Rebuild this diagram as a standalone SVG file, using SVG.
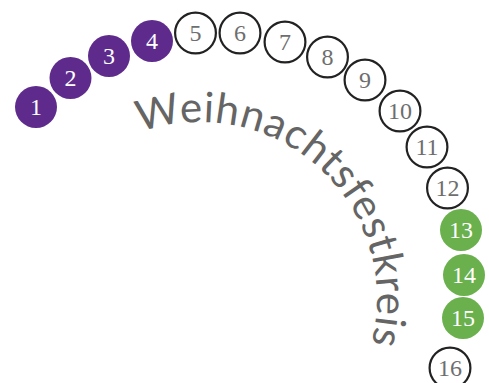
<svg xmlns="http://www.w3.org/2000/svg" width="489" height="383" viewBox="0 0 489 383">
<defs>
<style>
.o circle{fill:#fff;stroke:#222;stroke-width:2.2}
.p circle{fill:#5e2b8d}
.g circle{fill:#6ab04c}
text.n{font-family:"Liberation Serif",serif;font-size:24px;text-anchor:middle}
.o text{fill:#6e6e6e}
.p text,.g text{fill:#fff}
.arc{font-family:Lato,"Open Sans",sans-serif;font-size:42px;fill:#656565}
</style>
<path id="arcpath" d="M125.2,138.6 A177,177 0 0 1 366.3,359.5" fill="none"/>
</defs>
<g id="connectors"/>
<g id="label">
<text class="arc"><textPath href="#arcpath" startOffset="16" textLength="384" lengthAdjust="spacing">Weihnachtsfestkreis</textPath></text>
</g>
<g id="n1" class="p"><circle cx="36" cy="107" r="21"/><text class="n" x="36" y="115">1</text></g>
<g id="n2" class="p"><circle cx="70.5" cy="78" r="21"/><text class="n" x="70.5" y="86">2</text></g>
<g id="n3" class="p"><circle cx="109" cy="56" r="21"/><text class="n" x="109" y="64">3</text></g>
<g id="n4" class="p"><circle cx="152" cy="41" r="21"/><text class="n" x="152" y="49">4</text></g>
<g id="n5" class="o"><circle cx="195.5" cy="33" r="20.4"/><text class="n" x="195.5" y="41">5</text></g>
<g id="n6" class="o"><circle cx="240" cy="33" r="20.4"/><text class="n" x="240" y="41">6</text></g>
<g id="n7" class="o"><circle cx="285" cy="42" r="20.4"/><text class="n" x="285" y="50">7</text></g>
<g id="n8" class="o"><circle cx="327.5" cy="57" r="20.4"/><text class="n" x="327.5" y="65">8</text></g>
<g id="n9" class="o"><circle cx="365" cy="80" r="20.4"/><text class="n" x="365" y="88">9</text></g>
<g id="n10" class="o"><circle cx="400" cy="111" r="20.4"/><text class="n" x="400" y="119">10</text></g>
<g id="n11" class="o"><circle cx="427" cy="147" r="20.4"/><text class="n" x="427" y="155">11</text></g>
<g id="n12" class="o"><circle cx="447.5" cy="188" r="20.4"/><text class="n" x="447.5" y="196">12</text></g>
<g id="n13" class="g"><circle cx="461" cy="230" r="21"/><text class="n" x="461" y="238">13</text></g>
<g id="n14" class="g"><circle cx="464" cy="275" r="21"/><text class="n" x="464" y="283">14</text></g>
<g id="n15" class="g"><circle cx="463" cy="318" r="21"/><text class="n" x="463" y="326">15</text></g>
<g id="n16" class="o"><circle cx="450" cy="368" r="20.4"/><text class="n" x="450" y="376">16</text></g>
</svg>
